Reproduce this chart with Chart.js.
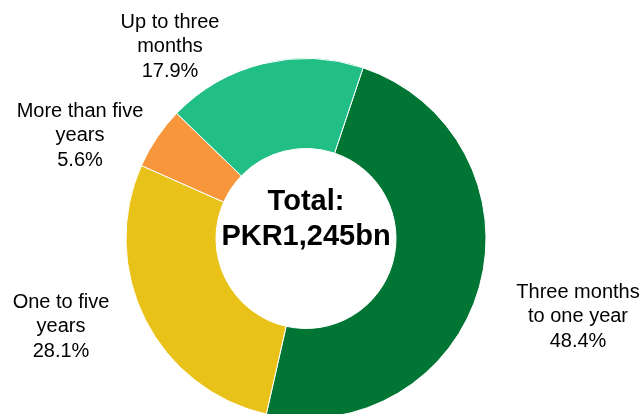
<!DOCTYPE html>
<html><head><meta charset="utf-8">
<script src="https://cdn.jsdelivr.net/npm/chart.js@4"></script>
<style>html,body{margin:0;padding:0;background:#fff;overflow:hidden}#wrap{width:644px;height:414px;position:relative;overflow:hidden}</style>
</head><body><div id="wrap"><canvas id="c" width="644" height="419"></canvas></div>
<script>
const categories = ["Three months to one year", "One to five years", "More than five years", "Up to three months"];
const labelLines = [["Three months", "to one year"], ["One to five", "years"], ["More than five", "years"], ["Up to three", "months"]];
const shares = [48.4, 28.1, 5.6, 17.9];
const colors = ["#007534", "#E9C219", "#F7963A", "#21BE86"];
const totalText = ["Total:", "PKR1,245bn"];
// label offsets relative to chart centre (middle line)
const labelOffsets = [[272, 78], [-245, 88], [-226, -103], [-136, -192]];

const labelPlugin = {
  id: 'lbls',
  afterDraw(chart) {
    const ctx = chart.ctx;
    const arc = chart.getDatasetMeta(0).data[0];
    const cx = arc.x, cy = arc.y;
    ctx.save();
    ctx.fillStyle = '#000';
    ctx.textAlign = 'center';
    ctx.textBaseline = 'middle';
    ctx.font = 'bold 29px "Liberation Sans", Arial, sans-serif';
    ctx.fillText(totalText[0], cx, cy - 37);
    ctx.fillText(totalText[1], cx, cy - 2);
    ctx.font = '20px "Liberation Sans", Arial, sans-serif';
    shares.forEach((v, i) => {
      const [dx, dy] = labelOffsets[i];
      const lines = labelLines[i].concat([v.toFixed(1) + '%']);
      lines.forEach((t, j) => ctx.fillText(t, cx + dx, cy + dy + (j - 1) * 24.5));
    });
    ctx.restore();
  }
};

new Chart(document.getElementById('c'), {
  type: 'doughnut',
  data: { labels: categories, datasets: [{ data: shares, backgroundColor: colors, borderColor: '#fff', borderWidth: 1 }] },
  options: {
    responsive: false, animation: false,
    rotation: 18.5, cutout: '50%',
    layout: { padding: { top: 58, bottom: 0, left: 0, right: 32 } },
    plugins: { legend: { display: false }, tooltip: { enabled: false } }
  },
  plugins: [labelPlugin]
});
</script></body></html>
